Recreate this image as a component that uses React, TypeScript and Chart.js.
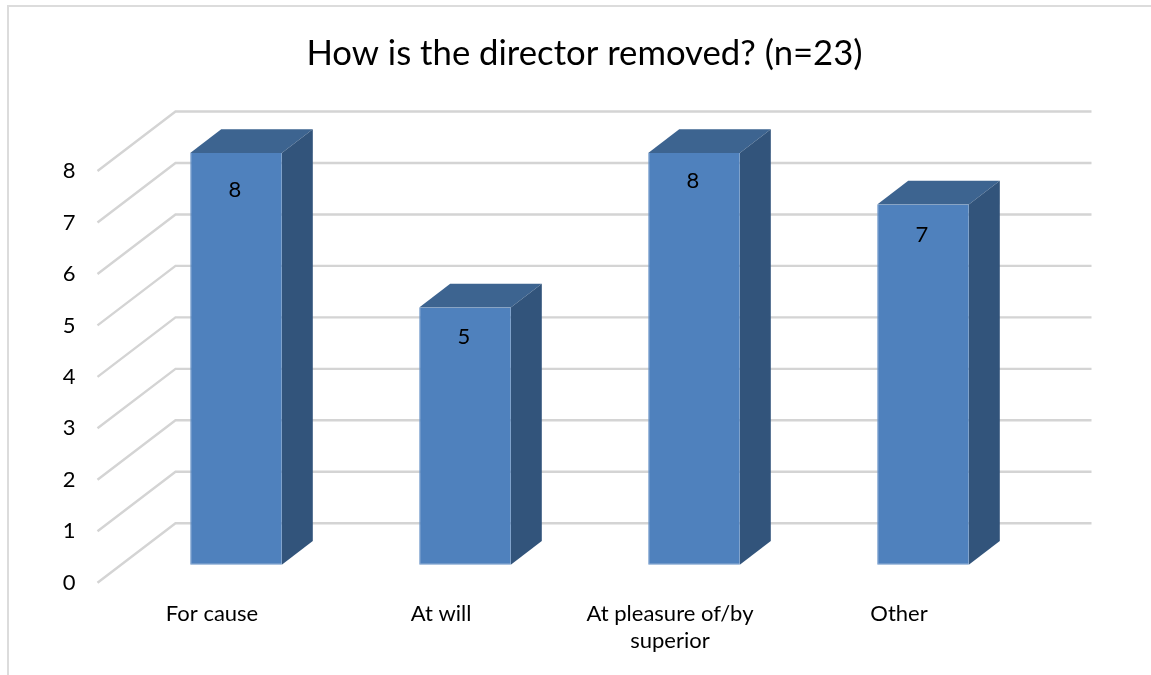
import React, { useEffect, useRef } from "react";
import { Chart, registerables } from "chart.js";

Chart.register(...registerables);

const categories: (string | string[])[] = ["For cause", "At will", ["At pleasure of/by", "superior"], "Other"];
const counts: number[] = [8, 5, 8, 7];
const titleText = "How is the director removed? (n=23)";

const FONT = "Lato, Carlito, Calibri, sans-serif";
const FRONT = { dx: 24, dy: -18 };
const BACK = { dx: 78, dy: -59.5 };
const BAR_DEPTH = { dx: 31, dy: -23.7 };
const LABEL_DROP = [37, 29, 28, 30];
const GRID = "#d4d4d4";

const chart3d = {
  id: "chart3d",
  beforeDraw(chart: any) {
    const { ctx, width } = chart;
    ctx.save();
    ctx.strokeStyle = "#dcdcdc";
    ctx.lineWidth = 2;
    ctx.beginPath();
    ctx.moveTo(8, 675);
    ctx.lineTo(8, 6);
    ctx.lineTo(width, 6);
    ctx.stroke();
    ctx.restore();
  },
  beforeDatasetsDraw(chart: any) {
    const { ctx, chartArea, scales } = chart;
    ctx.save();
    ctx.strokeStyle = GRID;
    ctx.lineWidth = 2.4;
    ctx.lineCap = "butt";
    scales.y.ticks.forEach((t: any) => {
      const y = scales.y.getPixelForValue(t.value);
      ctx.beginPath();
      ctx.moveTo(chartArea.left, y);
      ctx.lineTo(chartArea.left + BACK.dx, y + BACK.dy);
      ctx.lineTo(chartArea.right + BACK.dx, y + BACK.dy);
      ctx.stroke();
    });
    ctx.restore();

    ctx.save();
    ctx.translate(FRONT.dx, FRONT.dy);
    chart.getDatasetMeta(0).data.forEach((bar: any) => {
      const l = bar.x - bar.width / 2;
      const r = bar.x + bar.width / 2;
      const { dx, dy } = BAR_DEPTH;
      ctx.fillStyle = "#3d6490";
      ctx.beginPath();
      ctx.moveTo(l, bar.y);
      ctx.lineTo(l + dx, bar.y + dy);
      ctx.lineTo(r + dx, bar.y + dy);
      ctx.lineTo(r, bar.y);
      ctx.closePath();
      ctx.fill();
      ctx.fillStyle = "#32547b";
      ctx.beginPath();
      ctx.moveTo(r, bar.y);
      ctx.lineTo(r + dx, bar.y + dy);
      ctx.lineTo(r + dx, bar.base + dy);
      ctx.lineTo(r, bar.base);
      ctx.closePath();
      ctx.fill();
    });
  },
  afterDatasetsDraw(chart: any) {
    const { ctx } = chart;
    ctx.fillStyle = "#000000";
    ctx.font = `22px ${FONT}`;
    ctx.textAlign = "center";
    ctx.textBaseline = "middle";
    chart.getDatasetMeta(0).data.forEach((bar: any, i: number) => {
      ctx.fillText(String(counts[i]), bar.x - 1, bar.y + LABEL_DROP[i]);
    });
    ctx.restore();
  },
};

export default function App() {
  const ref = useRef<HTMLCanvasElement>(null);
  useEffect(() => {
    const chart = new Chart(ref.current as HTMLCanvasElement, {
      type: "bar",
      data: {
        labels: categories as any,
        datasets: [
          {
            data: counts,
            backgroundColor: "#4f81bd",
            borderColor: "#6b95c9",
            borderWidth: { left: 1, bottom: 1, top: 0, right: 0 },
            borderSkipped: false,
            barPercentage: 0.4,
            categoryPercentage: 1,
            clip: false as any,
          },
        ],
      },
      options: {
        responsive: false,
        animation: false,
        layout: { padding: { left: 18, right: 0, top: 0, bottom: 0 } },
        plugins: {
          legend: { display: false },
          tooltip: { enabled: false },
          title: {
            display: true,
            text: titleText,
            color: "#000000",
            font: { family: FONT, size: 34.7, weight: "normal", lineHeight: 1.2 },
            padding: { top: 33, bottom: 96.4 },
          },
        },
        scales: {
          x: {
            grid: { display: false, drawTicks: false },
            border: { display: false },
            ticks: {
              color: "#000000",
              font: { family: FONT, size: 22, lineHeight: 1.23 },
              padding: 18,
              autoSkip: false,
              maxRotation: 0,
              minRotation: 0,
            },
            afterFit: (s: any) => {
              s.height = 92.3;
            },
          },
          y: {
            min: 0,
            max: 8,
            grid: { display: false, drawTicks: false },
            border: { display: false },
            ticks: {
              stepSize: 1,
              color: "#000000",
              font: { family: FONT, size: 22 },
              padding: 22,
            },
            afterFit: (s: any) => {
              s.width = 79.5;
            },
          },
          rightGutter: {
            type: "linear",
            position: "right",
            display: true,
            grid: { display: false, drawTicks: false },
            border: { display: false },
            ticks: { display: false },
            afterFit: (s: any) => {
              s.width = 137.5;
            },
          },
        },
      } as any,
      plugins: [chart3d],
    });
    return () => chart.destroy();
  }, []);
  return (
    <canvas
      ref={ref}
      width={1151}
      height={675}
      style={{ position: "absolute", left: 0, top: 0, width: 1151, height: 675, display: "block" }}
    />
  );
}
